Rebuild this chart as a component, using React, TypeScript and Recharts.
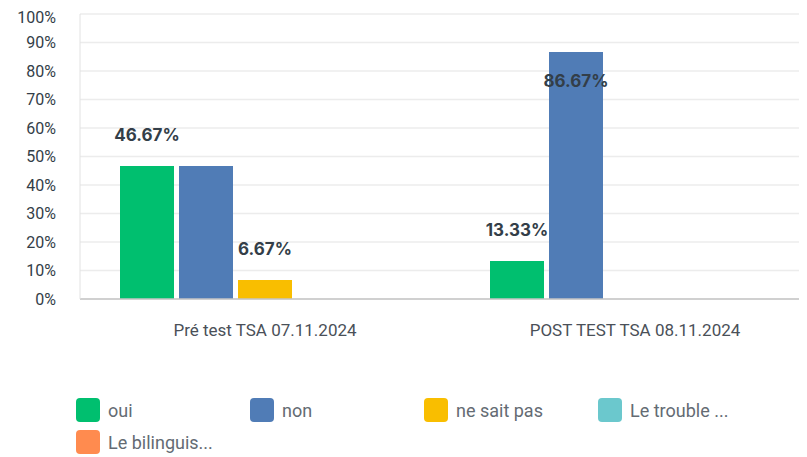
import { BarChart, Bar, XAxis, YAxis, CartesianGrid } from 'recharts'

const CATEGORIES = ['Pré test TSA 07.11.2024', 'POST TEST TSA 08.11.2024']
const OUI = [46.67, 13.33]
const NON = [46.67, 86.67]
const NE_SAIT_PAS = [6.67, 0]
const TROUBLE = [0, 0]
const BILINGUIS = [0, 0]
const Y_TICKS = [0, 10, 20, 30, 40, 50, 60, 70, 80, 90, 100]

const SERIES = [
  { key: 'oui', name: 'oui', color: '#00bf6f', values: OUI },
  { key: 'non', name: 'non', color: '#507cb6', values: NON },
  { key: 'nsp', name: 'ne sait pas', color: '#f9be00', values: NE_SAIT_PAS },
  { key: 'trouble', name: 'Le trouble ...', color: '#6bc8cd', values: TROUBLE },
  { key: 'biling', name: 'Le bilinguis...', color: '#ff8b4f', values: BILINGUIS },
]

const data = CATEGORIES.map((name, i) => {
  const row: Record<string, string | number> = { name }
  SERIES.forEach((s) => {
    row[s.key] = s.values[i]
  })
  return row
})

// hide a label when the previous bar in the group already shows the same value
function makeLabel(seriesIdx: number) {
  return function BarLabel(props: any) {
    const { x, y, width, value, index } = props
    if (!value) return null
    if (seriesIdx > 0 && SERIES[seriesIdx - 1].values[index] === value) return null
    const inside = value > 80
    return (
      <text
        x={x + width / 2}
        y={inside ? y + 29 : y - 31}
        textAnchor="middle"
        dominantBaseline="central"
        fill="#333e48"
        fontFamily="Inter"
        fontWeight={700}
        fontSize={17}
      >
        {value.toFixed(2)}%
      </text>
    )
  }
}

export default function App() {
  return (
    <div style={{ position: 'relative', width: 799, height: 449, overflow: 'hidden' }}>
      <BarChart
        width={812}
        height={449}
        data={data}
        margin={{ top: 6, right: 0, bottom: 98, left: 0 }}
        barCategoryGap={40}
        barGap={5}
      >
        <CartesianGrid vertical={false} stroke="#ececec" strokeWidth={1.5} />
        <XAxis
          dataKey="name"
          height={60}
          tickLine={false}
          axisLine={{ stroke: '#c4c4c4', strokeWidth: 1.5 }}
          tickSize={0}
          tickMargin={25}
          tick={{ fill: '#4a5058', fontSize: 17, fontFamily: 'Roboto' }}
        />
        <YAxis
          width={72}
          domain={[0, 100]}
          ticks={Y_TICKS}
          tickFormatter={(v) => `${v}%`}
          tickLine={false}
          axisLine={{ stroke: '#e2e2e2' }}
          tickSize={0}
          tickMargin={24}
          tick={{ fill: '#333e48', fontSize: 16, fontFamily: 'Roboto' }}
        />
        {SERIES.map((s, i) => (
          <Bar
            key={s.key}
            dataKey={s.key}
            name={s.name}
            fill={s.color}
            isAnimationActive={false}
            label={makeLabel(i)}
          />
        ))}
      </BarChart>
      <div
        style={{
          position: 'absolute',
          left: 68,
          top: 390,
          width: 720,
          display: 'flex',
          flexWrap: 'wrap',
          rowGap: 8,
          fontFamily: 'Roboto',
          fontSize: 18,
          color: '#646b73',
        }}
      >
        {SERIES.map((s) => (
          <div key={s.key} style={{ width: 174, display: 'flex', alignItems: 'center', height: 24 }}>
            <span
              style={{
                width: 24,
                height: 24,
                borderRadius: 4,
                background: s.color,
                marginRight: 8,
                flexShrink: 0,
              }}
            />
            <span>{s.name}</span>
          </div>
        ))}
      </div>
    </div>
  )
}
